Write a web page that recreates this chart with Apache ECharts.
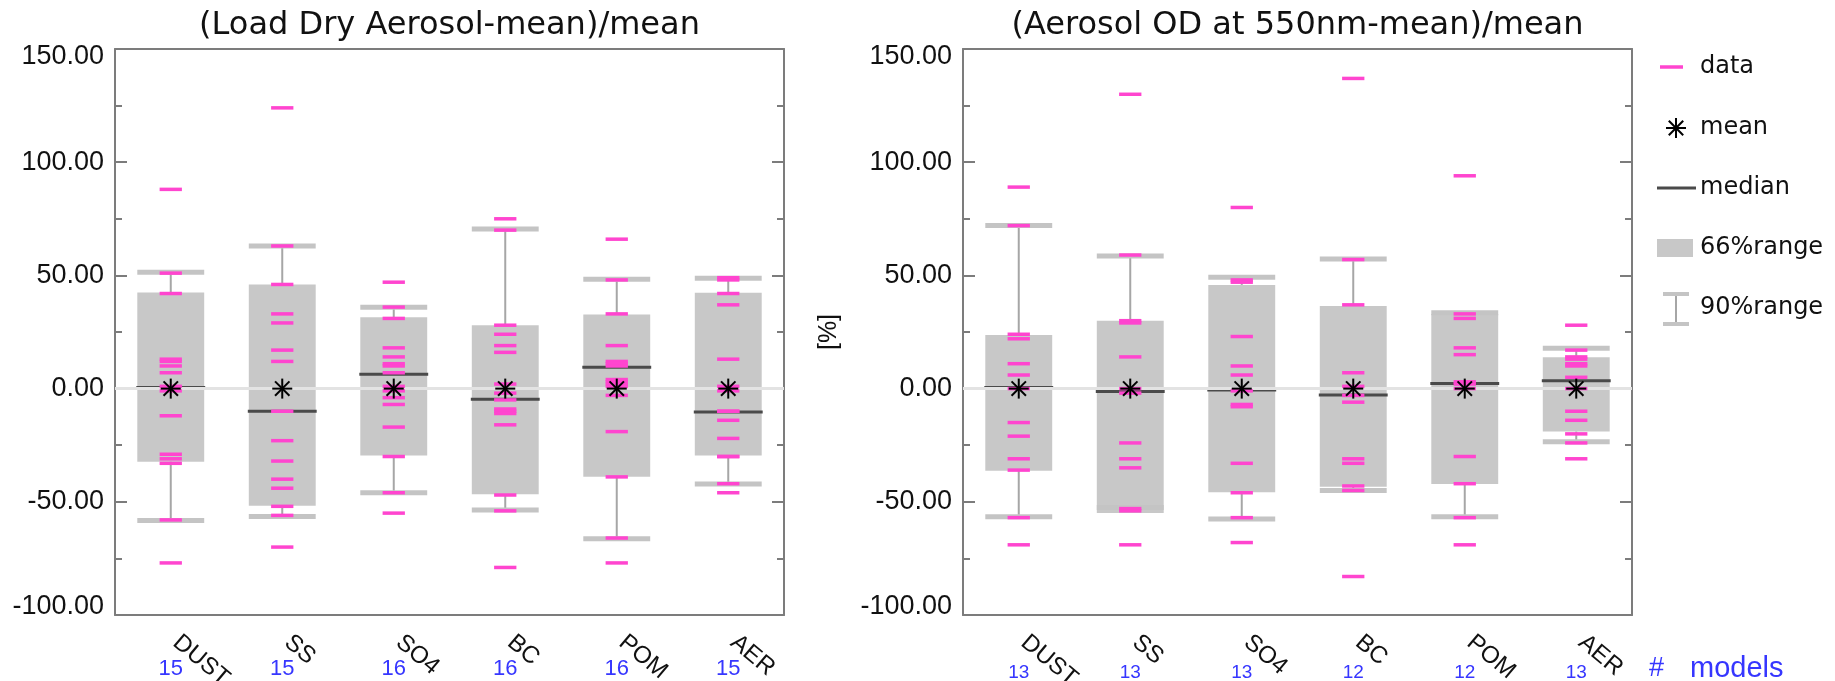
<!DOCTYPE html>
<html><head><meta charset="utf-8">
<script src="https://cdn.jsdelivr.net/npm/echarts@6/dist/echarts.min.js"></script>
<style>html,body{margin:0;padding:0;background:#fff}#c{width:1835px;height:681px}</style>
</head><body><div id="c"></div>
<script>
// ---------- data ----------
const categories = ['DUST', 'SS', 'SO4', 'BC', 'POM', 'AER'];
const yTickValues = [-100, -50, 0, 50, 100, 150];

// Left panel: (Load Dry Aerosol-mean)/mean  [%]
const loadCounts = [15, 15, 16, 16, 16, 15];
const loadDUST = [88, 51, 42, 13, 12, 10, 7, 1, -1, -12, -29, -31, -33, -58, -77];
const loadSS   = [124, 63, 46, 33, 29, 17, 12, -10, -23, -32, -40, -44, -52, -56, -70];
const loadSO4  = [47, 36, 31, 18, 14, 11, 10, 7, 1, -1, -4, -7, -17, -30, -46, -55];
const loadBC   = [75, 70, 28, 24, 19, 16, 2, -2, -5, -9, -10, -11, -16, -47, -54, -79];
const loadPOM  = [66, 48, 33, 19, 12, 11, 10, 4, 3, 2, 1, -3, -19, -39, -66, -77];
const loadAER  = [49, 48, 42, 37, 13, 1, -1, -10, -10, -14, -22, -30, -30, -42, -46];
const loadBoxHigh = [42.5, 46, 31.5, 28, 32.7, 42.3];
const loadBoxLow  = [-32.3, -51.7, -29.6, -46.7, -38.9, -29.6];
const loadCapHigh = [51.4, 63, 35.9, 70.5, 48.3, 48.7];
const loadCapLow  = [-58.3, -56.5, -46, -53.6, -66.3, -42.1];
const loadMedian  = [0.5, -10, 6.3, -4.7, 9.4, -10.3];
const loadMean    = [0, 0, 0, 0, 0, 0];

// Right panel: (Aerosol OD at 550nm-mean)/mean  [%]
const aodCounts = [13, 13, 13, 12, 12, 13];
const aodDUST = [89, 72, 24, 22, 11, 6, 0, -15, -21, -31, -36, -57, -69];
const aodSS   = [130, 59, 30, 29, 14, 0, -2, -24, -31, -35, -53, -54, -69];
const aodSO4  = [80, 48, 47, 23, 10, 6, -1, -7, -8, -33, -46, -57, -68];
const aodBC   = [137, 57, 37, 7, 1, -3, -6, -31, -33, -43, -45, -83];
const aodPOM  = [94, 33, 31, 18, 15, 3, 2, 0, -30, -42, -57, -69];
const aodAER  = [28, 17, 14, 13, 11, 10, 5, 0, -10, -14, -20, -24, -31];
const aodBoxHigh = [23.7, 30, 45.8, 36.5, 32.9, 13.8];
const aodBoxLow  = [-36.3, -55, -45.8, -43.3, -42.1, -19];
const aodCapHigh = [72, 58.6, 49.2, 57.2, 33.5, 17.8];
const aodCapLow  = [-56.6, -52.5, -57.6, -45, -56.6, -23.5];
const aodMedian  = [0.5, -1.3, -0.6, -2.8, 2.3, 3.5];
const aodMean    = [0, 0, 0, 0, 0, 0];

const loadTitle = '(Load Dry Aerosol-mean)/mean';
const aodTitle = '(Aerosol OD at 550nm-mean)/mean';
const legendNames = ['data', 'mean', 'median', '66%range', '90%range'];

// ---------- styles ----------
const PINK = '#ff45cf', BOXC = '#c8c8c8', CAPC = '#c4c4c4', WHISK = '#a6a6a6', MEDC = '#4a4a4a';
const AXC = '#7c7c7c', BLUE = '#3636ff', TXT = '#111111';
const BOXFRAC = 0.6, DASHFRAC = 0.2;

function boxRender(params, api) {
  const i = api.value(0);
  const p1 = api.coord([i, api.value(2)]), p2 = api.coord([i, api.value(1)]);
  const w = api.size([1, 0])[0] * BOXFRAC;
  return {type: 'rect', shape: {x: p1[0] - w / 2, y: p1[1], width: w, height: p2[1] - p1[1]}, style: {fill: BOXC}};
}
function whiskerRender(params, api) {
  const i = api.value(0), bl = api.value(1), bh = api.value(2), cl = api.value(3), ch = api.value(4);
  const w = api.size([1, 0])[0] * BOXFRAC;
  const x = api.coord([i, 0])[0];
  const y = v => api.coord([i, v])[1];
  const ch_ = [];
  if (ch > bh) ch_.push({type: 'line', shape: {x1: x, y1: y(bh), x2: x, y2: y(ch)}, style: {stroke: WHISK, lineWidth: 2}});
  if (cl < bl) ch_.push({type: 'line', shape: {x1: x, y1: y(bl), x2: x, y2: y(cl)}, style: {stroke: WHISK, lineWidth: 2}});
  ch_.push({type: 'rect', shape: {x: x - w / 2, y: y(ch) - 2.5, width: w, height: 5}, style: {fill: CAPC}});
  ch_.push({type: 'rect', shape: {x: x - w / 2, y: y(cl) - 2.5, width: w, height: 5}, style: {fill: CAPC}});
  return {type: 'group', children: ch_};
}
function medianRender(params, api) {
  const i = api.value(0);
  const p = api.coord([i, api.value(1)]);
  const w = api.size([1, 0])[0] * BOXFRAC + 2;
  return {type: 'line', shape: {x1: p[0] - w / 2, y1: p[1], x2: p[0] + w / 2, y2: p[1]}, style: {stroke: MEDC, lineWidth: 3}};
}
function dashRender(params, api) {
  const i = api.value(0);
  const p = api.coord([i, api.value(1)]);
  const w = api.size([1, 0])[0] * DASHFRAC;
  return {type: 'line', shape: {x1: p[0] - w / 2, y1: p[1], x2: p[0] + w / 2, y2: p[1]}, style: {stroke: PINK, lineWidth: 3.5}};
}
function asteriskShapes(cx, cy, r) {
  const d = r * 0.72;
  return [[-r, 0, r, 0], [0, -r, 0, r], [-d, -d, d, d], [-d, d, d, -d]].map(s => ({
    type: 'line', shape: {x1: cx + s[0], y1: cy + s[1], x2: cx + s[2], y2: cy + s[3]},
    style: {stroke: '#000', lineWidth: 2}
  }));
}
function meanRender(params, api) {
  const i = api.value(0);
  const p = api.coord([i, api.value(1)]);
  return {type: 'group', children: asteriskShapes(p[0], p[1], 10)};
}

function yLabel(v) {
  if (v === 150) return '{t|150.00}';
  if (v === -100) return '{b|-100.00}';
  return '{n|' + v.toFixed(2) + '}';
}
const yFont = {fontFamily: 'Liberation Sans', fontSize: 27, color: TXT};

function makeAxes(gi, counts, countFont, countMargin, withName) {
  const xs = [
    {gridIndex: gi, type: 'category', data: categories, position: 'bottom', boundaryGap: true,
      axisLine: {onZero: false, lineStyle: {color: AXC, width: 2}},
      axisTick: {inside: true, alignWithLabel: true, length: 12, lineStyle: {color: AXC, width: 2}},
      axisLabel: {rotate: -40, margin: 20, padding: [0, 0, 0, 7], fontFamily: 'Liberation Sans', fontSize: 24, color: TXT, interval: 0}},
    {gridIndex: gi, type: 'category', data: categories, position: 'top', boundaryGap: true,
      axisLine: {onZero: false, lineStyle: {color: AXC, width: 2}},
      axisTick: {inside: true, alignWithLabel: true, length: 12, lineStyle: {color: AXC, width: 2}},
      axisLabel: {show: false}},
    {gridIndex: gi, type: 'category', data: counts.map(String), position: 'bottom', boundaryGap: true,
      axisLine: {show: false, onZero: false}, axisTick: {show: false},
      axisLabel: {margin: countMargin, fontFamily: 'Liberation Sans', fontSize: countFont, color: BLUE, interval: 0}}
  ];
  const yBase = {gridIndex: gi, type: 'value', min: yTickValues[0], max: yTickValues[yTickValues.length - 1], interval: 50,
    splitLine: {show: false},
    axisLine: {show: true, lineStyle: {color: AXC, width: 2}},
    axisTick: {show: true, inside: true, length: 12, lineStyle: {color: AXC, width: 2}},
    minorTick: {show: true, splitNumber: 2, length: 7, lineStyle: {color: AXC, width: 2}}};
  const ys = [
    Object.assign({}, yBase, {position: 'left',
      axisLabel: {margin: 11, formatter: yLabel, fontFamily: 'Liberation Sans', fontSize: 27, color: TXT,
        rich: {t: Object.assign({padding: [16, 0, 0, 0]}, yFont), b: Object.assign({padding: [0, 0, 16, 0]}, yFont), n: yFont}}},
      withName ? {name: '[%]', nameLocation: 'middle', nameGap: 121, nameRotate: 90,
        nameTextStyle: {fontFamily: 'Liberation Sans', fontSize: 25, color: TXT}} : {}),
    Object.assign({}, yBase, {position: 'right', axisLabel: {show: false}})
  ];
  return {xs, ys};
}

const A0 = makeAxes(0, loadCounts, 22, 43, false);
const A1 = makeAxes(1, aodCounts, 19, 48, true);

function panelSeries(xi, yi, values, bl, bh, cl, ch, med, mean) {
  const idx = categories.map((c, i) => i);
  const pts = [];
  values.forEach((arr, i) => arr.forEach(v => pts.push([i, v])));
  const common = {type: 'custom', xAxisIndex: xi, yAxisIndex: yi, silent: true, animation: false};
  return [
    Object.assign({}, common, {name: 'zero', z: 1, data: [], renderItem: () => null,
      markLine: {silent: true, symbol: 'none', animation: false, label: {show: false},
        lineStyle: {color: '#e3e3e3', width: 3, type: 'solid'}, data: [{yAxis: 0}]}}),
    Object.assign({}, common, {name: '66%range', z: 2, renderItem: boxRender,
      data: idx.map(i => [i, bl[i], bh[i]])}),
    Object.assign({}, common, {name: '90%range', z: 3, renderItem: whiskerRender,
      data: idx.map(i => [i, bl[i], bh[i], cl[i], ch[i]])}),
    Object.assign({}, common, {name: 'median', z: 4, renderItem: medianRender,
      data: idx.map(i => [i, med[i]])}),
    Object.assign({}, common, {name: 'data', z: 5, renderItem: dashRender, data: pts}),
    Object.assign({}, common, {name: 'mean', z: 6, renderItem: meanRender,
      data: idx.map(i => [i, mean[i]])})
  ];
}

const series = [].concat(
  panelSeries(0, 0, [loadDUST, loadSS, loadSO4, loadBC, loadPOM, loadAER], loadBoxLow, loadBoxHigh, loadCapLow, loadCapHigh, loadMedian, loadMean),
  panelSeries(3, 2, [aodDUST, aodSS, aodSO4, aodBC, aodPOM, aodAER], aodBoxLow, aodBoxHigh, aodCapLow, aodCapHigh, aodMedian, aodMean)
);

// ---------- legend / titles (graphic) ----------
const titleFont = {fontFamily: 'DejaVu Sans', fontSize: 32, fill: '#111'};
const legFont = {fontFamily: 'DejaVu Sans', fontSize: 24, fill: '#111'};
const legX = 1700, legY = [67, 128, 188, 248, 308];
const graphics = [
  {type: 'text', x: 449.5, y: 26, style: Object.assign({text: loadTitle, align: 'center', verticalAlign: 'middle'}, titleFont)},
  {type: 'text', x: 1297.5, y: 26, style: Object.assign({text: aodTitle, align: 'center', verticalAlign: 'middle'}, titleFont)},
  {type: 'line', shape: {x1: 1660, y1: legY[0], x2: 1683, y2: legY[0]}, style: {stroke: PINK, lineWidth: 3.5}},
  {type: 'group', children: asteriskShapes(1676, legY[1], 10)},
  {type: 'line', shape: {x1: 1657, y1: legY[2], x2: 1696, y2: legY[2]}, style: {stroke: MEDC, lineWidth: 3}},
  {type: 'rect', shape: {x: 1657, y: legY[3] - 9, width: 36, height: 18}, style: {fill: BOXC}},
  {type: 'line', shape: {x1: 1676, y1: legY[4] - 14, x2: 1676, y2: legY[4] + 16}, style: {stroke: WHISK, lineWidth: 2}},
  {type: 'line', shape: {x1: 1663, y1: legY[4] - 14, x2: 1689, y2: legY[4] - 14}, style: {stroke: CAPC, lineWidth: 4}},
  {type: 'line', shape: {x1: 1663, y1: legY[4] + 16, x2: 1689, y2: legY[4] + 16}, style: {stroke: CAPC, lineWidth: 4}},
  {type: 'text', x: 1649, y: 669, style: {text: '#', fontFamily: 'Liberation Sans', fontSize: 27, fill: BLUE, align: 'left', verticalAlign: 'middle'}},
  {type: 'text', x: 1690, y: 669, style: {text: 'models', fontFamily: 'Liberation Sans', fontSize: 29, fill: BLUE, align: 'left', verticalAlign: 'middle'}}
];
legendNames.forEach((n, k) => graphics.push({type: 'text', x: legX, y: legY[k],
  style: Object.assign({text: n, align: 'left', verticalAlign: 'middle'}, legFont)}));

const chart = echarts.init(document.getElementById('c'), null, {renderer: 'canvas'});
chart.setOption({
  animation: false,
  backgroundColor: '#fff',
  grid: [
    {left: 115, top: 49, width: 669, height: 566, containLabel: false, outerBoundsMode: 'none'},
    {left: 963, top: 49, width: 669, height: 566, containLabel: false, outerBoundsMode: 'none'}
  ],
  xAxis: A0.xs.concat(A1.xs),
  yAxis: A0.ys.concat(A1.ys),
  series: series,
  graphic: graphics
});
</script></body></html>
